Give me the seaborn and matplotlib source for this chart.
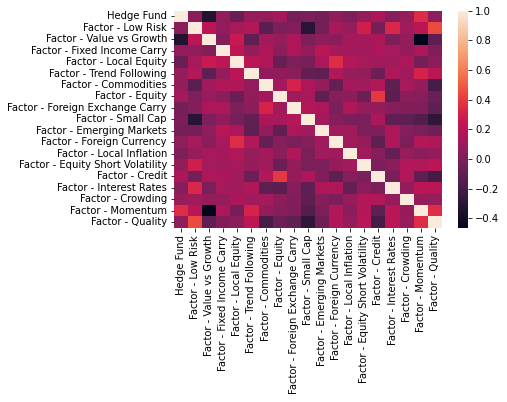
import numpy as np
import pandas as pd
import matplotlib
matplotlib.use("Agg")
import matplotlib.pyplot as plt
import seaborn as sns

labels = ["Hedge Fund", "Factor - Low Risk", "Factor - Value vs Growth",
          "Factor - Fixed Income Carry", "Factor - Local Equity",
          "Factor - Trend Following", "Factor - Commodities", "Factor - Equity",
          "Factor - Foreign Exchange Carry", "Factor - Small Cap",
          "Factor - Emerging Markets", "Factor - Foreign Currency",
          "Factor - Local Inflation", "Factor - Equity Short Volatility",
          "Factor - Credit", "Factor - Interest Rates", "Factor - Crowding",
          "Factor - Momentum", "Factor - Quality"]

# upper triangle of the correlation matrix, row by row (values right of the diagonal)
hedge_fund = [0.04, -0.33, 0.07, -0.07, 0.08, 0.08, 0.13, -0.03, -0.01, -0.03, 0.06, 0.0, 0.08, 0.16, 0.03, 0.09, 0.35, 0.06]
low_risk = [0.21, 0.07, 0.14, 0.18, -0.12, 0.0, 0.02, -0.31, -0.03, 0.14, 0.09, 0.29, -0.03, 0.33, 0.12, 0.21, 0.44]
value_growth = [0.02, 0.26, -0.10, 0.12, 0.09, 0.16, 0.0, 0.06, 0.05, 0.14, 0.14, 0.16, -0.01, 0.08, -0.465, -0.10]
fi_carry = [0.22, 0.08, 0.17, 0.04, 0.16, 0.07, 0.21, 0.14, 0.13, 0.12, 0.16, 0.14, 0.08, 0.16, 0.01]
local_equity = [0.21, 0.17, -0.07, 0.0, -0.02, 0.16, 0.35, 0.18, 0.14, 0.12, 0.12, 0.16, -0.03, 0.05]
trend = [0.07, 0.07, 0.04, -0.09, -0.10, 0.18, 0.09, 0.08, -0.06, 0.17, 0.12, 0.31, 0.22]
commodities = [0.13, 0.31, 0.16, 0.08, -0.08, 0.13, 0.12, 0.18, -0.11, 0.14, 0.08, -0.20]
equity = [0.12, 0.14, -0.10, 0.03, 0.05, -0.06, 0.39, -0.12, 0.05, 0.03, -0.06]
fx_carry = [0.18, 0.16, -0.01, 0.17, 0.08, 0.08, 0.03, 0.01, 0.01, -0.11]
small_cap = [0.12, 0.03, -0.01, -0.01, 0.16, -0.10, -0.10, -0.15, -0.28]
em = [0.12, 0.12, -0.01, 0.01, 0.16, 0.03, -0.01, -0.05]
fx = [0.12, 0.08, -0.11, 0.16, -0.01, 0.18, 0.17]
local_infl = [0.12, 0.03, -0.08, 0.09, 0.05, 0.08]
esv = [-0.01, 0.05, 0.18, 0.18, 0.20]
credit = [-0.01, 0.18, -0.11, -0.20]
rates = [0.08, 0.21, 0.21]
crowding = [0.08, 0.09]
momentum = [0.35]

cbar_ticks = [-0.4, -0.2, 0.0, 0.2, 0.4, 0.6, 0.8, 1.0]

upper = [hedge_fund, low_risk, value_growth, fi_carry, local_equity, trend,
         commodities, equity, fx_carry, small_cap, em, fx, local_infl, esv,
         credit, rates, crowding, momentum]

n = len(labels)
corr = np.eye(n)
for i, row in enumerate(upper):
    for k, v in enumerate(row):
        corr[i, i + 1 + k] = v
        corr[i + 1 + k, i] = v
df = pd.DataFrame(corr, index=labels, columns=labels)

# 72 dpi so default 10pt text comes out at the reference's size
fig = plt.figure(figsize=(507 / 72, 402 / 72), dpi=72)
ax = fig.add_axes([0.343, 0.433, 0.5286, 0.5405])
cax = fig.add_axes([0.9034, 0.433, 0.0197, 0.5405])

sns.heatmap(df, ax=ax, cbar_ax=cax, xticklabels=True, yticklabels=True,
            cbar_kws={"ticks": cbar_ticks})
ax.set_xticklabels(labels, rotation=90)
ax.set_yticklabels(labels, rotation=0)
cax.set_yticklabels([f"{t:.1f}".replace("-", "\u2212") for t in cbar_ticks])

fig.savefig("out.png", dpi=72)
